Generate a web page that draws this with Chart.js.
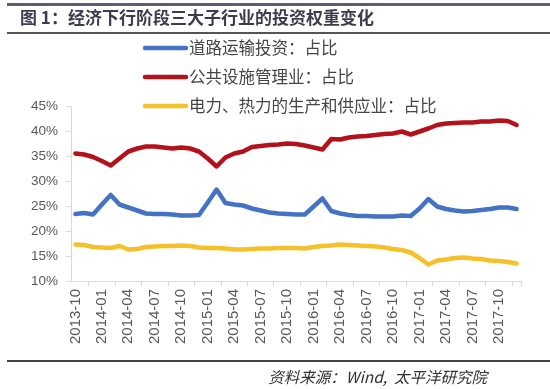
<!DOCTYPE html>
<html>
<head>
<meta charset="utf-8">
<script src="https://cdn.jsdelivr.net/npm/chart.js"></script>
<style>
  html, body { margin: 0; padding: 0; background: #fff; }
  #wrap { width: 550px; height: 389px; position: relative; }
</style>
</head>
<body>
<div id="wrap"><canvas id="chart"></canvas></div>
<script>
// monthly categories, 2013-10 .. 2017-12
const months = [
  '2013-10', '2013-11', '2013-12',
  '2014-01', '2014-02', '2014-03', '2014-04', '2014-05', '2014-06',
  '2014-07', '2014-08', '2014-09', '2014-10', '2014-11', '2014-12',
  '2015-01', '2015-02', '2015-03', '2015-04', '2015-05', '2015-06',
  '2015-07', '2015-08', '2015-09', '2015-10', '2015-11', '2015-12',
  '2016-01', '2016-02', '2016-03', '2016-04', '2016-05', '2016-06',
  '2016-07', '2016-08', '2016-09', '2016-10', '2016-11', '2016-12',
  '2017-01', '2017-02', '2017-03', '2017-04', '2017-05', '2017-06',
  '2017-07', '2017-08', '2017-09', '2017-10', '2017-11', '2017-12'
];

const seriesNames = ['道路运输投资：占比', '公共设施管理业：占比', '电力、热力的生产和供应业：占比'];

// 道路运输投资 (%)
const road = [
  23.4, 23.6, 23.3, 25.3, 27.2, 25.3, 24.7, 24.1, 23.5, 23.4, 23.4, 23.3,
  23.1, 23.1, 23.2, 25.7, 28.3, 25.6, 25.3, 25.1, 24.5, 24.1, 23.7, 23.5,
  23.4, 23.3, 23.3, 24.9, 26.5, 24.0, 23.5, 23.2, 23.0, 23.0, 22.9, 22.9,
  22.9, 23.1, 23.0, 24.5, 26.4, 24.9, 24.4, 24.1, 23.9, 24.0, 24.2, 24.4,
  24.7, 24.7, 24.4
];

// 公共设施管理业 (%)
const publicUtil = [
  35.5, 35.3, 34.8, 34.0, 33.1, 34.5, 35.9, 36.5, 36.9, 36.9, 36.7, 36.5,
  36.7, 36.5, 35.9, 34.5, 32.9, 34.7, 35.5, 35.9, 36.8, 37.0, 37.2, 37.3,
  37.5, 37.4, 37.1, 36.7, 36.3, 38.4, 38.3, 38.7, 38.9, 39.0, 39.2, 39.4,
  39.5, 39.9, 39.3, 39.9, 40.5, 41.2, 41.5, 41.6, 41.7, 41.7, 41.9, 41.9,
  42.1, 42.0, 41.2
];

// 电力、热力的生产和供应业 (%)
const power = [
  17.3, 17.2, 16.8, 16.7, 16.6, 17.0, 16.3, 16.4, 16.8, 16.9, 17.0, 17.0,
  17.1, 17.0, 16.7, 16.6, 16.6, 16.5, 16.3, 16.3, 16.4, 16.5, 16.5, 16.6,
  16.6, 16.6, 16.5, 16.8, 17.0, 17.1, 17.3, 17.2, 17.1, 17.0, 16.9, 16.7,
  16.4, 16.2, 15.7, 14.6, 13.3, 14.1, 14.3, 14.6, 14.7, 14.5, 14.4, 14.1,
  14.0, 13.8, 13.5
];

const yTicks = [10, 15, 20, 25, 30, 35, 40, 45];

const colors = ['#4472C4', '#B3121A', '#F5C12A'];
const axisGray = '#D9D9D9';
const textGray = '#595959';
const cjk = '"Noto Sans CJK SC", "Noto Sans", sans-serif';
const latin = '"Liberation Sans", Arial, sans-serif';

// title, legend and source note are drawn by hand around the plot
const decorPlugin = {
  id: 'decor',
  afterDraw(chart) {
    const ctx = chart.ctx;
    const area = chart.chartArea;
    ctx.save();

    // closing tick at the right end of the x axis
    ctx.strokeStyle = axisGray;
    ctx.lineWidth = 1;
    ctx.beginPath();
    ctx.moveTo(Math.round(area.right) + 0.5, area.bottom);
    ctx.lineTo(Math.round(area.right) + 0.5, area.bottom + 5);
    ctx.stroke();

    // header rules
    ctx.fillStyle = '#5E5E72';
    ctx.fillRect(7, 3, 543, 3);
    ctx.fillStyle = '#555555';
    ctx.fillRect(7, 32, 543, 2);

    ctx.fillStyle = '#3C3C4E';
    ctx.font = 'bold 17px ' + cjk;
    ctx.textBaseline = 'middle';
    ctx.textAlign = 'left';
    ctx.fillText('图 1：经济下行阶段三大子行业的投资权重变化', 20, 18);

    // legend
    const rows = [48, 77, 106];
    seriesNames.forEach((name, i) => {
      ctx.strokeStyle = colors[i];
      ctx.lineWidth = 4.5;
      ctx.lineCap = 'round';
      ctx.beginPath();
      ctx.moveTo(145, rows[i]);
      ctx.lineTo(186, rows[i]);
      ctx.stroke();
      ctx.fillStyle = '#454545';
      ctx.font = '16.5px ' + cjk;
      ctx.fillText(name, 189, rows[i]);
    });

    // footer
    ctx.fillStyle = '#444444';
    ctx.fillRect(7, 360, 543, 2);
    ctx.fillStyle = '#333333';
    ctx.font = 'italic 15.5px ' + cjk;
    ctx.textAlign = 'right';
    ctx.fillText('资料来源：Wind,  太平洋研究院', 487, 377);

    ctx.restore();
  }
};

new Chart(document.getElementById('chart'), {
  type: 'line',
  data: {
    labels: months,
    datasets: [road, publicUtil, power].map((vals, i) => ({
      label: seriesNames[i],
      data: vals,
      borderColor: colors[i],
      backgroundColor: colors[i],
      borderWidth: 4.5,
      pointRadius: 0,
      tension: 0,
      borderJoinStyle: 'round',
      borderCapStyle: 'round'
    }))
  },
  options: {
    responsive: true,
    maintainAspectRatio: false,
    animation: false,
    layout: { padding: { left: 0, top: 106, right: 29, bottom: 0 } },
    plugins: {
      legend: { display: false },
      title: { display: false },
      tooltip: { enabled: false }
    },
    scales: {
      x: {
        type: 'category',
        offset: true,
        afterFit: (scale) => { scale.height = 108; },
        grid: {
          offset: true,
          drawOnChartArea: false,
          drawTicks: true,
          tickLength: 5,
          color: axisGray
        },
        border: { display: true, color: axisGray, width: 1 },
        ticks: {
          autoSkip: false,
          minRotation: 90,
          maxRotation: 90,
          padding: 3,
          color: textGray,
          font: { family: latin, size: 15 },
          callback: (val, idx) => (idx % 3 === 0 ? months[idx] : null)
        }
      },
      y: {
        min: yTicks[0],
        max: yTicks[yTicks.length - 1],
        afterFit: (scale) => { scale.width = 71; },
        afterBuildTicks: (scale) => { scale.ticks = yTicks.map(v => ({ value: v })); },
        grid: {
          drawOnChartArea: false,
          drawTicks: true,
          tickLength: 5,
          color: axisGray
        },
        border: { display: true, color: axisGray, width: 1 },
        ticks: {
          padding: 8,
          color: textGray,
          font: { family: latin, size: 13.5 },
          callback: (v) => v + '%'
        }
      }
    }
  },
  plugins: [decorPlugin]
});
</script>
</body>
</html>
